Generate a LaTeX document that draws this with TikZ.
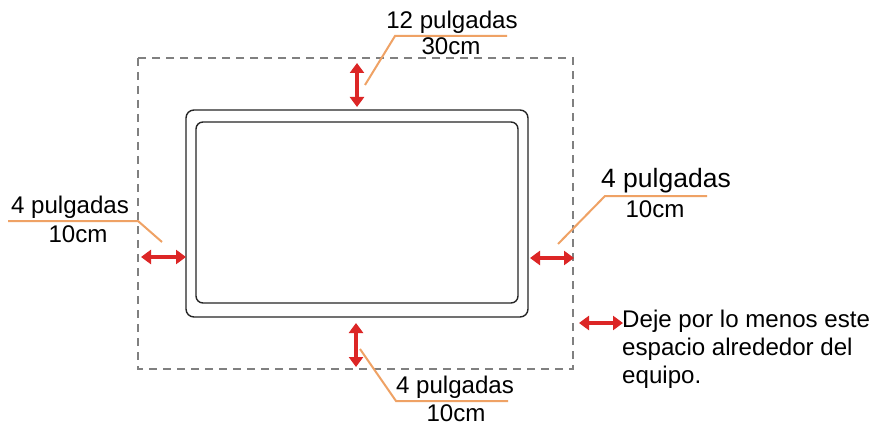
\documentclass[tikz,border=0pt]{standalone}
\usepackage{fontspec}
\setmainfont{Liberation Sans}
\usetikzlibrary{arrows.meta}
\definecolor{lead}{HTML}{EFA265}
\definecolor{redarr}{HTML}{DC2626}
\definecolor{dashgray}{HTML}{808080}
\tikzset{
  gap/.style={draw=redarr, line width=4.5pt, {Triangle[length=10pt,width=14pt]}-{Triangle[length=10pt,width=14pt]}},
  leader/.style={draw=lead, line width=2pt},
  lbl/.style={font=\fontsize{24.1pt}{28pt}\selectfont, inner sep=0pt, anchor=base},
  frame/.style={draw=black!85, line width=1.4pt},
  clearance/.style={draw=dashgray, line width=1.6pt, dash pattern=on 8pt off 6pt},
}
\begin{document}
\begin{tikzpicture}[x=1pt,y=-1pt]
\useasboundingbox[fill=white] (0,0) rectangle (870,425);
% clearance area
\draw[clearance] (138,58) rectangle (573,369);
% monitor
\node[frame, rounded corners=8pt, minimum width=342pt, minimum height=207pt, inner sep=0pt] (outer) at (357,213.5) {};
\node[frame, rounded corners=7pt, minimum width=322pt, minimum height=181pt, inner sep=0pt] (inner) at (357,212.5) {};
% arrow end points
\coordinate (t1) at (357,63);  \coordinate (t2) at (357,107);
\coordinate (b1) at (356,323); \coordinate (b2) at (356,367);
\coordinate (l1) at (141,257); \coordinate (l2) at (186,257);
\coordinate (r1) at (530,258); \coordinate (r2) at (574,258);
\coordinate (g1) at (579,323); \coordinate (g2) at (623,323);
\draw[gap] (t1) -- (t2);
\draw[gap] (b1) -- (b2);
\draw[gap] (l1) -- (l2);
\draw[gap] (r1) -- (r2);
\draw[gap] (g1) -- (g2);
% leader lines
\coordinate (ta) at (365,85);  \coordinate (tb) at (395,36);  \coordinate (tc) at (507,36);
\coordinate (la) at (8,221);   \coordinate (lb) at (138,221); \coordinate (lc) at (162,242);
\coordinate (ra) at (558,244); \coordinate (rb) at (605,196); \coordinate (rc) at (707,196);
\coordinate (ba) at (360,349); \coordinate (bb) at (396,401); \coordinate (bc) at (508,401);
\draw[leader] (ta) -- (tb) -- (tc);
\draw[leader] (la) -- (lb) -- (lc);
\draw[leader] (ra) -- (rb) -- (rc);
\draw[leader] (ba) -- (bb) -- (bc);
% labels
\node[lbl] (top1) at (452,29) {12 pulgadas};
\node[lbl] (top2) at (451,55) {30cm};
\node[lbl] (lef1) at (70,213) {4 pulgadas};
\node[lbl] (lef2) at (78,242) {10cm};
\node[lbl, font=\fontsize{26.5pt}{30pt}\selectfont] (rig1) at (666,187) {4 pulgadas};
\node[lbl] (rig2) at (655,217) {10cm};
\node[lbl] (bot1) at (455,393) {4 pulgadas};
\node[lbl] (bot2) at (456,421) {10cm};
\node[lbl, anchor=base west] (leg1) at (622,327) {Deje por lo menos este};
\node[lbl, anchor=base west] (leg2) at (622,355) {espacio alrededor del};
\node[lbl, anchor=base west] (leg3) at (622,383) {equipo.};
\end{tikzpicture}
\end{document}
